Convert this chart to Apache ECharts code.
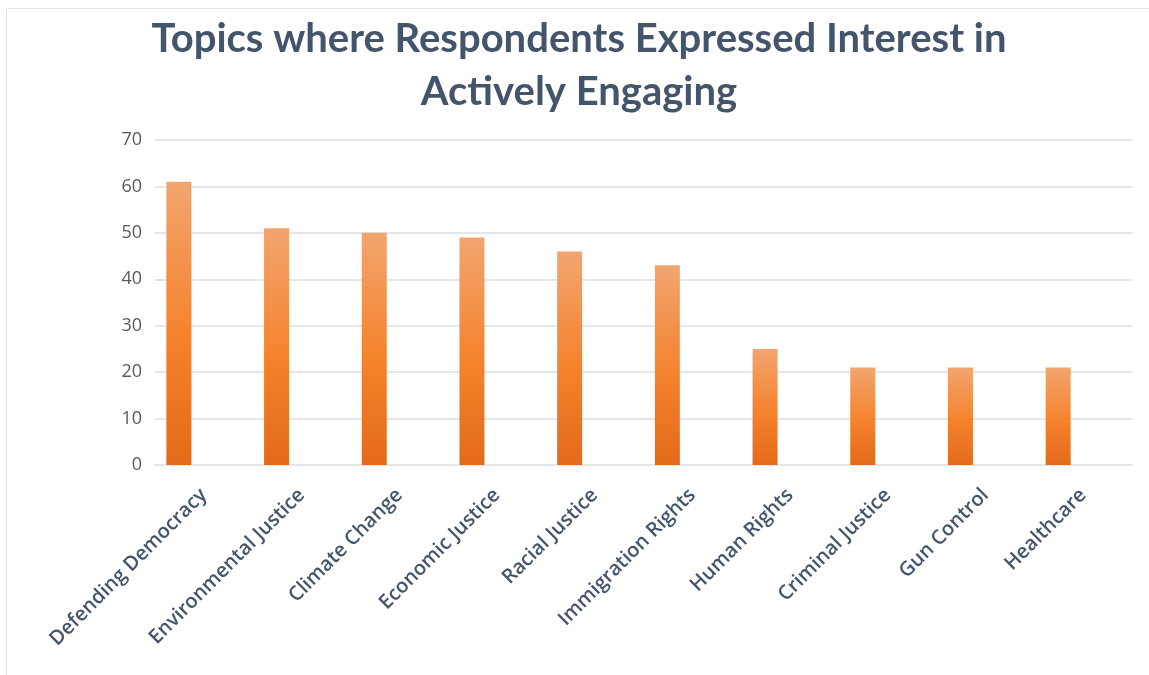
<!DOCTYPE html>
<html><head><meta charset="utf-8">
<script src="https://cdn.jsdelivr.net/npm/echarts@6/dist/echarts.min.js"></script>
<style>html,body{margin:0;padding:0;background:#fff}#c{width:1149px;height:675px}</style>
</head><body><div id="c"></div>
<script>
const categories = ['Defending Democracy','Environmental Justice','Climate Change','Economic Justice','Racial Justice','Immigration Rights','Human Rights','Criminal Justice','Gun Control','Healthcare'];
const values = [61, 51, 50, 49, 46, 43, 25, 21, 21, 21];
const emptySeries = [null, null, null, null, null, null, null, null, null, null];
const yTicks = [0, 10, 20, 30, 40, 50, 60, 70];

const chart = echarts.init(document.getElementById('c'));
const grad = new echarts.graphic.LinearGradient(0, 0, 0, 1, [
  {offset: 0, color: '#F2A56F'},
  {offset: 0.55, color: '#F5822C'},
  {offset: 1, color: '#E36A1A'}
]);
chart.setOption({
  backgroundColor: '#fff',
  animation: false,
  title: {
    text: 'Topics where Respondents Expressed Interest in\nActively Engaging',
    left: 574, top: 8, textAlign: 'center',
    textStyle: {fontFamily: 'Lato', fontWeight: 'bold', fontSize: 40, color: '#44546A', lineHeight: 53}
  },
  graphic: [{type: 'rect', shape: {x: 6.5, y: 8.5, width: 1150, height: 700}, style: {fill: 'none', stroke: '#E3E3E3', lineWidth: 1}, silent: true}],
  grid: {left: 155, right: 17, top: 140, bottom: 210},
  xAxis: {
    type: 'category', data: categories,
    axisLine: {show: true, lineStyle: {color: '#E4E6EA', width: 2}},
    axisTick: {show: false},
    axisLabel: {rotate: 45, margin: 27, interval: 0, fontFamily: 'Open Sans', fontWeight: 600, fontSize: 20, color: '#44546A'}
  },
  yAxis: {
    type: 'value', min: 0, max: 70, interval: 10,
    axisLine: {show: false}, axisTick: {show: false},
    splitLine: {lineStyle: {color: '#E4E6EA', width: 2}},
    axisLabel: {margin: 13, fontFamily: 'Open Sans', fontSize: 18, color: '#595959',
      formatter: v => yTicks.includes(v) ? String(v) : ''}
  },
  series: [
    {type: 'bar', data: values, barWidth: 25, barGap: '0%', itemStyle: {color: grad}},
    {type: 'bar', data: emptySeries, barWidth: 25, barGap: '0%'},
    {type: 'bar', data: emptySeries, barWidth: 25, barGap: '0%'}
  ]
});
</script></body></html>
